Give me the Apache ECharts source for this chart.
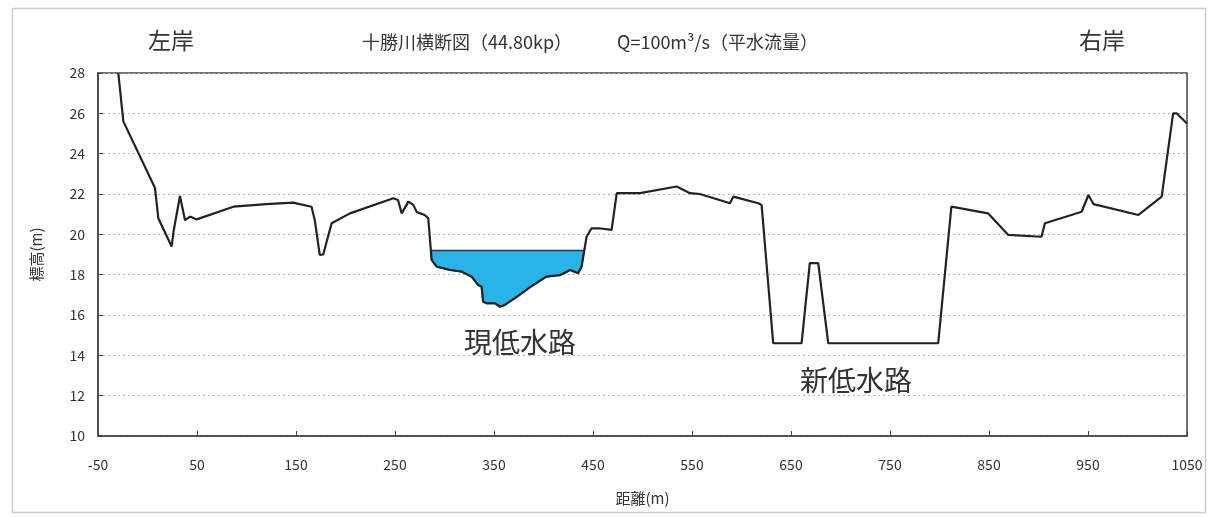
<!DOCTYPE html>
<html><head><meta charset="utf-8">
<script src="https://cdn.jsdelivr.net/npm/echarts@6/dist/echarts.min.js"></script>
<style>html,body{margin:0;padding:0;background:#fff}#c{width:1213px;height:517px}</style>
</head><body><div id="c"></div>
<script>
// Cross-section: distance (m) and elevation (m)
const distance = [-29.5, -24.4, 7.6, 10.9, 24.4, 26.5, 32.8, 37.9, 43, 49.7, 86.7, 120, 147, 165.7, 169, 174, 177.5, 186, 204.5,
  248.3, 253, 256.8, 263.5, 268.5, 272, 280, 283.6, 287, 292, 305.6, 317.3, 327.4, 334, 337.5, 339, 342.5, 351, 356, 361, 373,
  389.7, 403, 417, 427, 435, 438.5, 443.5, 448.5, 456, 468.8, 474, 497.5, 534.5, 548, 558, 588.4, 591.7, 617, 620.3, 632,
  660.7, 669, 677.5, 687.6, 798.7, 812, 849, 869.5, 903, 906.5, 943.6, 950.4, 955.5, 1001, 1024.4, 1036, 1039.5, 1050];
const elevation = [28, 25.6, 22.3, 20.8, 19.4, 20.2, 21.9, 20.7, 20.88, 20.74, 21.37, 21.5, 21.57, 21.37, 20.7, 18.98, 19.0, 20.55, 21.04,
  21.79, 21.7, 21.04, 21.62, 21.46, 21.1, 20.96, 20.8, 18.73, 18.4, 18.23, 18.15, 17.9, 17.49, 17.4, 16.66, 16.58, 16.58, 16.41, 16.5, 16.9,
  17.49, 17.9, 17.98, 18.23, 18.07, 18.4, 19.88, 20.3, 20.3, 20.22, 22.04, 22.04, 22.37, 22.04, 22.0, 21.54, 21.87, 21.54, 21.46, 14.6,
  14.6, 18.57, 18.57, 14.6, 14.6, 21.37, 21.04, 19.97, 19.88, 20.55, 21.12, 21.95, 21.5, 20.96, 21.87, 26.0, 26.0, 25.5];
// Water surface (平水流量) and channel range where it lies
const waterLevel = 19.2;
const waterRange = [280, 450];
const xTickLabels = [-50, 50, 150, 250, 350, 450, 550, 650, 750, 850, 950, 1050];
const yTickLabels = [10, 12, 14, 16, 18, 20, 22, 24, 26, 28];

const titleText = '十勝川横断図（44.80kp）　　　Q=100m³/s（平水流量）';
const leftBank = '左岸', rightBank = '右岸';
const oldChannel = '現低水路', newChannel = '新低水路';

const terrain = distance.map((d, i) => [d, elevation[i]]);

// build water polygon from terrain within range
function waterPolygon() {
  const pts = [];
  for (let i = 1; i < terrain.length; i++) {
    const a = terrain[i - 1], b = terrain[i];
    if (b[0] < waterRange[0] || a[0] > waterRange[1]) continue;
    const aIn = a[1] < waterLevel, bIn = b[1] < waterLevel;
    if (aIn !== bIn) {
      const t = (waterLevel - a[1]) / (b[1] - a[1]);
      pts.push([a[0] + t * (b[0] - a[0]), waterLevel]);
    }
    if (bIn) pts.push(b);
  }
  return pts;
}
const water = waterPolygon();

const FONT = '"Noto Sans CJK JP", "Noto Sans", sans-serif';
const chart = echarts.init(document.getElementById('c'), null, {renderer: 'canvas'});
chart.setOption({
  backgroundColor: '#fff',
  animation: false,
  title: {
    text: titleText, left: 357, top: 28,
    textStyle: {fontFamily: FONT, fontSize: 18, fontWeight: 'normal', color: '#333'}
  },
  grid: {left: 98, right: 26, top: 73, bottom: 81, show: true, borderColor: '#444', borderWidth: 1.5},
  xAxis: {
    type: 'value', min: -50, max: 1050, interval: 100,
    name: '距離(m)', nameLocation: 'middle', nameGap: 55,
    nameTextStyle: {fontFamily: FONT, fontSize: 15, color: '#333'},
    axisLine: {show: true, onZero: false, lineStyle: {color: '#444', width: 1.5}},
    axisTick: {show: true, inside: true, length: 5, lineStyle: {color: '#444'}, customValues: xTickLabels},
    axisLabel: {fontFamily: FONT, fontSize: 14, color: '#333', margin: 22,
      customValues: xTickLabels, formatter: v => String(v)},
    splitLine: {show: false}
  },
  yAxis: {
    type: 'value', min: 10, max: 28, interval: 2,
    name: '標高(m)', nameLocation: 'middle', nameGap: 54, nameRotate: 90,
    nameTextStyle: {fontFamily: FONT, fontSize: 15, color: '#333'},
    axisLine: {show: true, onZero: false, lineStyle: {color: '#444', width: 1.5}},
    axisTick: {show: true, inside: true, length: 5, lineStyle: {color: '#444'}},
    axisLabel: {fontFamily: FONT, fontSize: 14, color: '#333', margin: 13, formatter: v => String(v)},
    splitLine: {show: true, lineStyle: {color: '#b0b0b0', type: [2, 3], width: 1}}
  },
  graphic: [
    {type: 'rect', left: 10, top: 6, shape: {width: 1193, height: 504}, style: {fill: 'none', stroke: '#ccc', lineWidth: 1.5}, z: -1},
    {type: 'text', left: 148, top: 29, style: {text: leftBank, fontFamily: FONT, fontSize: 23, fill: '#333'}},
    {type: 'text', left: 1079, top: 29, style: {text: rightBank, fontFamily: FONT, fontSize: 23, fill: '#333'}},
    {type: 'text', left: 464, top: 328, style: {text: oldChannel, fontFamily: FONT, fontSize: 28, fill: '#333'}},
    {type: 'text', left: 800, top: 366, style: {text: newChannel, fontFamily: FONT, fontSize: 28, fill: '#333'}}
  ],
  series: [
    {
      type: 'custom', z: 1,
      data: [0],
      renderItem: function (params, api) {
        const points = water.map(p => api.coord(p));
        return {type: 'polygon', shape: {points: points},
          style: {fill: '#2ab3e6', stroke: '#1d3a4a', lineWidth: 1.5}};
      }
    },
    {
      type: 'line', data: terrain, showSymbol: false, z: 3,
      lineStyle: {color: '#222', width: 2.2}
    }
  ]
});
</script></body></html>
